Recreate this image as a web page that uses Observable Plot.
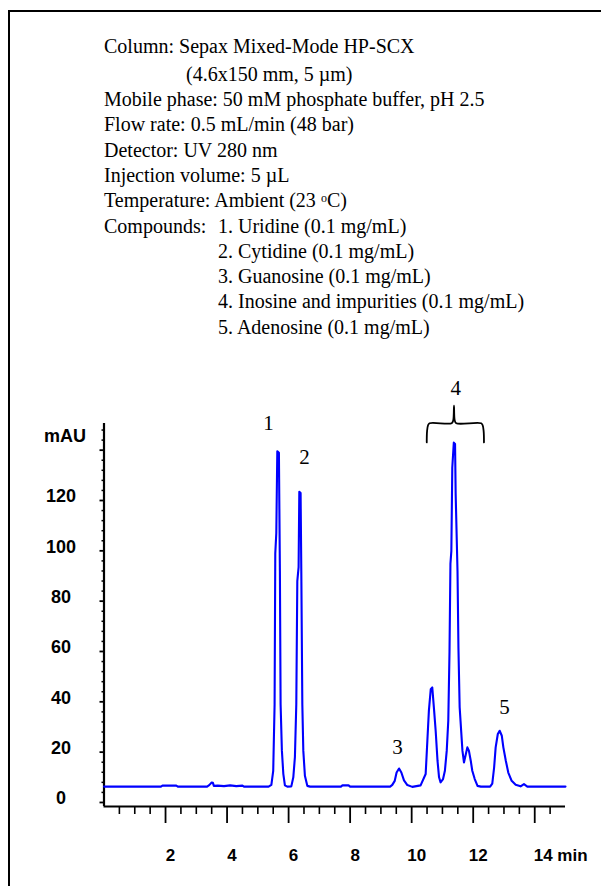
<!DOCTYPE html>
<html><head><meta charset="utf-8">
<script src="https://cdn.jsdelivr.net/npm/d3@7"></script>
<script src="https://cdn.jsdelivr.net/npm/@observablehq/plot@0.6"></script>
<style>
html,body{margin:0;padding:0;width:601px;height:886px;overflow:hidden;background:#fff;}
#frame{position:absolute;left:8px;top:10px;width:700px;height:1000px;border-left:2px solid #000;border-top:2px solid #000;}
#info{position:absolute;left:104px;top:33.5px;font-family:"Liberation Serif","Times New Roman",serif;font-size:20px;line-height:25.3px;color:#000;white-space:nowrap;}
#info .l2{margin-top:3px;}
#info .in1{padding-left:82px;}
#info .in2{padding-left:114px;}
#info .lab{display:inline-block;width:114px;}
#info sup{font-size:0.6em;vertical-align:0.45em;line-height:0;}
#chart{position:absolute;left:0;top:360px;}
</style></head><body>
<div id="frame"></div>
<div id="info">
<div>Column: Sepax Mixed-Mode HP-SCX</div>
<div class="l2 in1">(4.6x150 mm, 5 µm)</div>
<div>Mobile phase: 50 mM phosphate buffer, pH 2.5</div>
<div>Flow rate: 0.5 mL/min (48 bar)</div>
<div>Detector: UV 280 nm</div>
<div>Injection volume: 5 µL</div>
<div>Temperature: Ambient (23 <sup>o</sup>C)</div>
<div><span class="lab">Compounds:</span>1. Uridine (0.1 mg/mL)</div>
<div class="in2">2. Cytidine (0.1 mg/mL)</div>
<div class="in2">3. Guanosine (0.1 mg/mL)</div>
<div class="in2">4. Inosine and impurities (0.1 mg/mL)</div>
<div class="in2">5. Adenosine (0.1 mg/mL)</div>
</div>
<div id="chart"></div>
<script>
// Chromatogram trace (time in min, absorbance in mAU)
const time = [0, 1.85, 1.9, 2.35, 2.4, 3.35, 3.42, 3.5, 3.54, 3.57, 3.7, 3.9, 4.1, 4.3, 4.5, 4.55, 5.35, 5.44, 5.50, 5.545, 5.567, 5.600, 5.633, 5.685, 5.717, 5.740, 5.782, 5.828, 5.880, 5.958, 6.088, 6.153, 6.205, 6.250, 6.283, 6.325, 6.348, 6.390, 6.413, 6.446, 6.478, 6.530, 6.608, 6.7, 7.7, 7.75, 7.95, 8.0, 9.3, 9.37, 9.45, 9.51, 9.59, 9.665, 9.75, 9.86, 10.02, 10.29, 10.455, 10.51, 10.56, 10.62, 10.67, 10.73, 10.78, 10.84, 10.89, 10.94, 11.02, 11.08, 11.14, 11.19, 11.23, 11.26, 11.29, 11.32, 11.37, 11.41, 11.43, 11.49, 11.52, 11.56, 11.65, 11.70, 11.76, 11.81, 11.86, 11.92, 11.97, 12.05, 12.14, 12.25, 12.55, 12.62, 12.68, 12.73, 12.80, 12.86, 12.93, 12.98, 13.06, 13.14, 13.25, 13.38, 13.54, 13.65, 13.76, 15];
const signal = [6.3, 6.3, 6.7, 6.7, 6.3, 6.3, 6.9, 7.9, 7.8, 6.6, 6.7, 6.5, 6.8, 6.5, 6.7, 6.3, 6.3, 7.0, 12.6, 39, 99, 107, 139.6, 139, 92, 39, 20.6, 11.4, 6.8, 6.3, 6.4, 10, 18, 39, 88, 93.5, 123.5, 123, 92, 39, 20.6, 10.6, 6.6, 6.3, 6.3, 6.8, 6.8, 6.3, 6.3, 7, 8.6, 11.9, 13.5, 11.9, 8.8, 6.9, 6.2, 6.8, 11.3, 24.5, 36.5, 45, 45.7, 36.5, 28.5, 16.6, 10, 8, 9.3, 12.6, 20.6, 32.5, 60, 94.8, 100, 133, 143, 142.5, 122.6, 92, 61.6, 37.8, 20.6, 15.9, 19.2, 21.9, 20.6, 16.6, 12.6, 9.3, 6.6, 6.3, 6.3, 7.5, 13.9, 21.9, 27.2, 28.5, 26.5, 21.9, 16.6, 11.9, 8.6, 7, 6.4, 7.3, 6.3, 6.3];

// Peak annotations
const peakLabels = ["1", "2", "3", "4", "5"];
const peakTime = [5.35, 6.52, 9.54, 11.43, 13.02];
const peakValue = [150.6, 137, 22.1, 164.5, 38];

// Bracket over peak group 4
const bracketTime = [10.49, 10.50, 10.53, 10.58, 11.30, 11.35, 11.376, 11.40, 11.45, 12.26, 12.31, 12.34, 12.35];
const bracketValue = [143.1, 147.5, 149.8, 150.7, 150.7, 151.8, 157.7, 151.8, 150.7, 150.7, 149.8, 147.5, 143.1];

// Axes
const yDomain = [-1.6, 150.6];
const yMajor = [0, 20, 40, 60, 80, 100, 120, 140];
const yLabels = [0, 20, 40, 60, 80, 100, 120];
const yMinor = d3.range(4, 149, 4).filter(d => d % 20 !== 0);
const xMajor = [2, 4, 6, 8, 10, 12, 14];
const xLabels = ["2", "4", "6", "8", "10", "12", "14 min"];
const xMinor = d3.range(0.5, 15, 0.5).filter(d => d % 2 !== 0);

const trace = time.map((t, i) => ({t, v: signal[i]}));
const peaks = peakLabels.map((s, i) => ({s, t: peakTime[i], v: peakValue[i]}));
const bracket = bracketTime.map((t, i) => ({t, v: bracketValue[i]}));
const xTicks = xMajor.map((t, i) => ({t, s: xLabels[i]}));

const sans = "'Liberation Sans', Arial, sans-serif";
const serif = "'Liberation Serif', 'Times New Roman', serif";

const chart = Plot.plot({
  width: 601,
  height: 526,
  marginLeft: 103.5,
  marginRight: 36,
  marginTop: 63,
  marginBottom: 80,
  style: {background: "transparent", overflow: "visible"},
  x: {domain: [0, 15]},
  y: {domain: yDomain},
  marks: [
    Plot.axisX(xMinor, {tickSize: 8, tickFormat: () => "", strokeWidth: 1.6, label: null}),
    Plot.axisX(xMajor, {tickSize: 17, tickFormat: () => "", strokeWidth: 1.8, label: null}),
    Plot.axisY(yMinor, {tickSize: 2, tickFormat: () => "", strokeWidth: 1.5, label: null}),
    Plot.axisY(yMajor, {tickSize: 4, tickFormat: () => "", strokeWidth: 1.8, label: null}),
    Plot.ruleX([0], {y1: yDomain[0], y2: yDomain[1], strokeWidth: 2.2}),
    Plot.ruleY([yDomain[0]], {x1: 0, x2: 15, strokeWidth: 2.2}),
    Plot.text(yLabels, {y: d => d, text: d => String(d), frameAnchor: "left", dx: -43, dy: -4, textAnchor: "middle", fontFamily: sans, fontWeight: "bold", fontSize: 18}),
    Plot.text(["mAU"], {y: 145.4, text: d => d, frameAnchor: "left", dx: -18, textAnchor: "end", fontFamily: sans, fontWeight: "bold", fontSize: 18}),
    Plot.text(xTicks.filter(d => d.t < 14), {x: "t", text: "s", frameAnchor: "bottom", dy: 54, dx: 5, fontFamily: sans, fontWeight: "bold", fontSize: 17}),
    Plot.text(xTicks.filter(d => d.t >= 14), {x: "t", text: "s", frameAnchor: "bottom", dy: 54, dx: -1, textAnchor: "start", fontFamily: sans, fontWeight: "bold", fontSize: 17}),
    Plot.line(trace, {x: "t", y: "v", stroke: "#0000ff", strokeWidth: 2.1}),
    Plot.line(bracket, {x: "t", y: "v", stroke: "#000", strokeWidth: 1.8, curve: "catmull-rom"}),
    Plot.text(peaks, {x: "t", y: "v", text: "s", fontFamily: serif, fontSize: 21, fill: "#000"})
  ]
});
document.getElementById("chart").appendChild(chart);
</script>
</body></html>
